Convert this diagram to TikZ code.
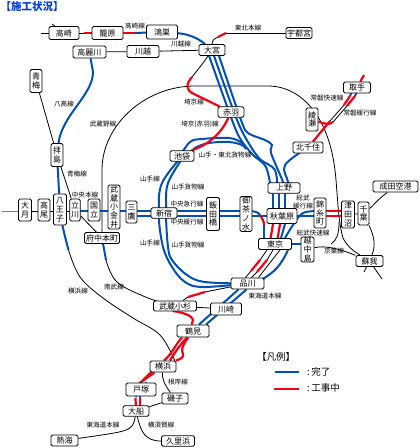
\documentclass[tikz,border=0pt]{standalone}
\usepackage{fontspec}
\setmainfont{Noto Sans CJK JP}
\usepackage{xcolor}
\usetikzlibrary{backgrounds}
\definecolor{doneblue}{RGB}{0,80,180}
\definecolor{wipred}{RGB}{240,0,20}
\definecolor{titleblue}{RGB}{0,60,220}
\tikzset{
  station/.style 2 args={draw,fill=white,rounded corners=1.5pt,line width=0.9pt,inner sep=0pt,
    minimum width=#1,minimum height=#2,align=center,font=\fontsize{8}{8.8}\selectfont},
  linelabel/.style={inner sep=0pt,align=center,font=\fontsize{6.6}{7.6}\selectfont},
  legendtext/.style={anchor=west,inner sep=0pt,font=\fontsize{9.5}{11}\selectfont},
  plainline/.style={draw=black,line width=0.8pt},
  doneline/.style={draw=doneblue,line width=2pt},
  wipline/.style={draw=wipred,line width=2.2pt},
  grayline/.style={draw=gray,line width=0.8pt},
}
\begin{document}
\begin{tikzpicture}[x=1pt,y=-1pt]
  \useasboundingbox (0,0) rectangle (420,448);
  \node[anchor=west,inner sep=0pt,text=titleblue,font=\fontsize{10.5}{12}\selectfont\bfseries] (title) at (0.5,6.5) {【施工状況】};

  % stations
  \node[station={30pt}{13pt}] (takasaki) at (64,33) {高崎};
  \node[station={31pt}{13pt}] (kagohara) at (107.5,33) {籠原};
  \node[station={31pt}{14pt}] (konosu) at (162,32) {鴻巣};
  \node[station={33pt}{12pt}] (komagawa) at (89.5,52) {高麗川};
  \node[station={32pt}{12pt}] (kawagoe) at (143,51.5) {川越};
  \node[station={26pt}{11pt}] (omiya) at (212,50) {大宮};
  \node[station={26pt}{11pt}] (utsunomiya) at (299,33) {宇都宮};
  \node[station={12pt}{23pt}] (ome) at (36,81) {青\\梅};
  \node[station={12pt}{23pt}] (haijima) at (57,155) {拝\\島};
  \node[station={13pt}{22pt}] (otsuki) at (25,210) {大\\月};
  \node[station={12pt}{22pt}] (takao) at (44,210) {高\\尾};
  \node[station={13pt}{31pt}] (hachioji) at (60,209.5) {八\\王\\子};
  \node[station={10.5pt}{22pt}] (tachikawa) at (75,210) {立\\川};
  \node[station={12pt}{22pt}] (kunitachi) at (94,210) {国\\立};
  \node[station={12pt}{44pt}] (musashikoganei) at (114,207) {武\\蔵\\小\\金\\井};
  \node[station={11pt}{22pt}] (mitaka) at (131.5,212) {三\\鷹};
  \node[station={26pt}{10.5pt}] (shinjuku) at (164,213) {新宿};
  \node[station={35pt}{11pt}] (fuchuhonmachi) at (102,238) {府中本町};
  \node[station={24pt}{10.5pt}] (ikebukuro) at (182,156) {池袋};
  \node[station={26pt}{10.5pt}] (akabane) at (231,112) {赤羽};
  \node[station={13pt}{33pt}] (iidabashi) at (213,214) {飯\\田\\橋};
  \node[station={12pt}{35pt}] (ochanomizu) at (246,214) {御\\茶\\ノ\\水};
  \node[station={32pt}{10.5pt}] (ueno) at (284,188) {上野};
  \node[station={30pt}{15pt}] (akihabara) at (282,216) {秋葉原};
  \node[station={33pt}{11pt}] (tokyo) at (275,244) {東京};
  \node[station={12pt}{30pt}] (kinshicho) at (320,213) {錦\\糸\\町};
  \node[station={13pt}{27pt}] (tsudanuma) at (348,214.5) {津\\田\\沼};
  \node[station={11pt}{23pt}] (chiba) at (363.5,213.5) {千\\葉};
  \node[station={45pt}{11pt}] (naritakuko) at (395.5,186.5) {成田空港};
  \node[station={27pt}{11pt}] (soga) at (369.5,261) {蘇我};
  \node[station={13pt}{23pt}] (etchujima) at (307.5,249.5) {越\\中\\島};
  \node[station={33pt}{11pt}] (shinagawa) at (247.5,283.5) {品川};
  \node[station={31pt}{12pt}] (kawasaki) at (226,309) {川崎};
  \node[station={43pt}{10pt}] (musashikosugi) at (175,306) {武蔵小杉};
  \node[station={32pt}{12pt}] (tsurumi) at (193,331) {鶴見};
  \node[station={26pt}{11pt}] (yokohama) at (163,366.5) {横浜};
  \node[station={30pt}{13pt}] (totsuka) at (141,389.5) {戸塚};
  \node[station={26pt}{11pt}] (isogo) at (175,398.5) {磯子};
  \node[station={26pt}{10.5pt}] (ofuna) at (136,411) {大船};
  \node[station={27pt}{11pt}] (atami) at (64.5,440.5) {熱海};
  \node[station={33pt}{10.5pt}] (kurihama) at (178,441) {久里浜};
  \node[station={27pt}{11pt}] (toride) at (357,87.5) {取手};
  \node[station={12pt}{23pt}] (ayase) at (312,119.5) {綾\\瀬};
  \node[station={30pt}{11pt}] (kitasenju) at (308,147.5) {北千住};

  % rows of the Chuo tracks
  \coordinate (chuoA) at (0,211);
  \coordinate (chuoB) at (0,216);
  \coordinate (ueleft) at (41,33);
  \coordinate (uptick) at (52,24);
  \coordinate (otsukileft) at (2,211);
  \coordinate (sogaA) at (364,272);
  \coordinate (sogaB) at (382,279);
  \coordinate (toridetop) at (364,75);

  \begin{scope}[on background layer]
    % black lines
    \draw[plainline] (ueleft) -- (takasaki);
    \draw[plainline] (uptick) -- (takasaki);
    \draw[plainline] (takasaki) -- (84,33);
    \draw[plainline] (komagawa) -- (kawagoe);
    \draw[plainline] (kawagoe) -- (omiya);
    \draw[plainline] (ome) -- (haijima);
    \draw[plainline] (haijima) -- (tachikawa);
    \draw[grayline] (otsukileft) -- (otsuki |- chuoA);
    \draw[plainline] (otsuki |- chuoA) -- (tachikawa |- chuoA);
    \draw[plainline] (tachikawa) -- (fuchuhonmachi);
    \draw[plainline] (omiya) .. controls (212,40) and (215,38) .. (218,37);
    \draw[plainline] (226,33) -- (utsunomiya);
    \draw[plainline] (omiya) .. controls (204,62) and (200,67) .. (192,77);
    % Musashino line
    \draw[plainline] (fuchuhonmachi) -- (102,170) .. controls (102,125) and (145,86) .. (195,86)
      -- (268,86) .. controls (300,86) and (331,115) .. (336,180)
      .. controls (338,205) and (339,225) .. (343,238) .. controls (347,246) and (352,250) .. (soga);
    \draw[plainline] (339,222) .. controls (339,234) and (337,240) .. (331,244);
    \draw[plainline] (etchujima) .. controls (325,245) and (340,249) .. (soga);
    \draw[plainline] (tsudanuma) -- (chiba);
    \draw[plainline] (chiba) .. controls (374,236) and (376,245) .. (soga);
    \draw[plainline] (chiba) .. controls (374,205) and (377,200) .. (naritakuko);
    \draw[plainline] (soga) -- (sogaA);
    \draw[plainline] (soga) -- (sogaB);
    % Yokohama and Nambu lines
    \draw[plainline] plot[smooth,tension=.6] coordinates {(68.5,250) (80,277) (103,298) (133,318) (160,335) (175,361)};
    \draw[plainline] plot[smooth,tension=.6] coordinates {(106,260) (117,282) (148,298) (musashikosugi)};
    % south end
    \draw[plainline] (yokohama) .. controls (162,378) and (164,384) .. (isogo);
    \draw[plainline] (isogo) -- (ofuna);
    \draw[plainline] (ofuna) .. controls (133,432) and (128,431) .. (atami);
    \draw[plainline] (ofuna) .. controls (141,432) and (145,441) .. (kurihama);
    \draw[plainline] (musashikosugi) -- (kawasaki);
    % Tokyo to Shinagawa, black parts
    \draw[plainline] ([xshift=-8pt]tokyo.south) -- (260,260);
    \draw[plainline] (251,271) -- ([xshift=-2pt]shinagawa.north);
    \draw[plainline] ([xshift=-2pt]tokyo.south) -- (267,260);
    \draw[plainline] (257,272) -- ([xshift=4pt]shinagawa.north);
    \draw[plainline] ([xshift=5pt]tokyo.south) -- ([xshift=11pt]shinagawa.north);
    \draw[plainline] (shinagawa) -- (205,292);
    \draw[plainline] (188,297) -- (musashikosugi);
    % Joban black parts
    \draw[plainline] (344,105) -- (330,121);
    \draw[plainline] (347,106) -- (333,122);

    % completed tracks
    \draw[doneline] (konosu) .. controls (188,34) and (198,38) .. (omiya);
    \draw[doneline] (komagawa) -- (93,72) .. controls (93,95) and (62,115) .. (haijima);
    \draw[doneline] (haijima) -- (hachioji);
    \draw[doneline] (tachikawa |- chuoA) -- (mitaka |- chuoA);
    \draw[doneline] (mitaka |- chuoA) -- (ochanomizu |- chuoA);
    \draw[doneline] (mitaka |- chuoB) -- (kinshicho |- chuoB);
    \draw[doneline] plot[smooth,tension=.6] coordinates {(hachioji) (63,228) (68.5,250)};
    \draw[doneline] (fuchuhonmachi) -- (106,260);
    % Yamanote and freight rings
    \draw[doneline] plot[smooth,tension=.6] coordinates {(ikebukuro) (162,183) (159,208) (shinjuku) (159,218) (163,247) (172,267) (185,282) (203,287) (shinagawa)};
    \draw[doneline] plot[smooth,tension=.6] coordinates {([xshift=2pt]ikebukuro.center) (168,183) (166,208) (166,218) (168,247) (172,260) (187,275) (205,282) (shinagawa)};
    \draw[doneline] plot[smooth,tension=.6] coordinates {([xshift=-2pt]ikebukuro.center) (190,142) (202,139) (229,138) (242,143) (246,149)};
    \draw[doneline] plot[smooth,tension=.6] coordinates {([xshift=5pt]ikebukuro.center) (195,148) (209,143) (229,142) (242,145) (246,149)};
    % tracks from Omiya to Ueno
    \draw[doneline] plot[smooth,tension=.5] coordinates {([xshift=-5pt]omiya.center) (232,120) (241,140) (253,155) (266,167) ([xshift=-12pt]ueno.south)};
    \draw[doneline] plot[smooth,tension=.5] coordinates {(omiya) (237,120) (251,147) (261,160) (275,170) ([xshift=-6pt]ueno.south)};
    \draw[doneline] plot[smooth,tension=.5] coordinates {([xshift=5pt]omiya.center) (241,120) (248,133) (265,140) (272,145) (271,153) (283,182) ([xshift=1pt]ueno.south)};
    \draw[doneline] plot[smooth,tension=.6] coordinates {(kitasenju) (285,165) (288,182) ([xshift=4pt]ueno.south)};
    \draw[doneline] ([xshift=-11pt]ueno.south) -- ([xshift=-9pt]akihabara.north);
    \draw[doneline] ([xshift=-5pt]ueno.south) -- ([xshift=-3pt]akihabara.north);
    \draw[doneline] ([xshift=1pt]ueno.south) -- ([xshift=3pt]akihabara.north);
    \draw[doneline] ([xshift=3pt]akihabara.south) -- ([xshift=6pt]tokyo.north);
    \draw[doneline] (ochanomizu |- chuoA) .. controls (256,211) and (258,212) .. (260,215);
    \draw[doneline] (264,224) -- ([xshift=-11pt]tokyo.center);
    \draw[doneline] plot[smooth,tension=.6] coordinates {(kinshicho |- chuoA) (303,213) (293,225) (285,238)};
    \draw[doneline] (tokyo) -- (etchujima |- tokyo);
    \draw[doneline] ([xshift=13pt]tokyo.south) .. controls (280,267) and (275,271) .. (263,279);
    % Shinagawa to Tsurumi
    \draw[doneline] ([xshift=-9pt]shinagawa.south) -- ([xshift=6pt]tsurumi.north);
    \draw[doneline] ([xshift=-1pt]shinagawa.south) -- ([xshift=13pt]tsurumi.north);

    % tracks under construction
    \draw[wipline] (84,33) -- (kagohara);
    \draw[wipline] (kagohara) -- (135,33);
    \draw[doneline] (135,33) -- (konosu);
    \draw[wipline] (192,77) .. controls (186,84) and (185,90) .. (194,94) -- (akabane);
    \draw[wipline] (218,37) -- (226,33);
    \draw[wipline] (akabane) .. controls (225,125) and (220,134) .. (207,143) .. controls (201,147) and (195,149) .. (ikebukuro);
    \draw[wipline] (260,215) .. controls (262,218) and (264,221) .. (264,225);
    \draw[wipline] ([xshift=-9pt]akihabara.south) .. controls (272,231) and (271,234) .. ([xshift=-5pt]tokyo.center);
    \draw[wipline] ([xshift=-2pt]akihabara.south) .. controls (279,231) and (278,234) .. ([xshift=2pt]tokyo.center);
    \draw[wipline] (kinshicho |- chuoA) -- (tsudanuma |- chuoA);
    \draw[wipline] (kinshicho |- chuoB) -- (tsudanuma |- chuoB);
    \draw[wipline] (260,260) -- (251,271);
    \draw[wipline] (267,260) -- (257,272);
    \draw[wipline] (205,292) -- (188,297);
    \draw[wipline] (musashikosugi) -- (173,311) .. controls (186,313) and (196,317) .. (192,323) -- (tsurumi);
    % Tsurumi to Yokohama
    \draw[wipline] ([xshift=-11pt]tsurumi.south) .. controls (175,345) and (172,354) .. ([xshift=1pt]yokohama.north);
    \draw[wipline] ([xshift=-6pt]tsurumi.south) .. controls (180,345) and (175,352) .. ([xshift=7pt]yokohama.north);
    \draw[wipline] (tsurumi) .. controls (182,346) and (181,350) .. (183,354) .. controls (184,358) and (180,359) .. ([xshift=13pt]yokohama.north);
    % Yokohama to Ofuna
    \draw[wipline] (yokohama) -- (141,382);
    \draw[wipline] ([xshift=-6pt]yokohama.center) -- (139,384);
    \draw[doneline] (141,382) -- (totsuka);
    \draw[doneline] (146,382) -- (totsuka);
    \draw[wipline] (135.5,398) -- (ofuna);
    \draw[wipline] (140,398) -- (140,407);
    \draw[doneline] (137,394) -- (135.8,397);
    \draw[doneline] (140,394) -- (140,397.5);
    % Joban
    \draw[wipline] (toridetop) -- (toride);
    \draw[doneline] ([xshift=-3pt]toride.center) -- (350,96);
    \draw[doneline] ([xshift=2pt]toride.center) -- (355,96);
    \draw[wipline] (350,96) -- (344,105);
    \draw[wipline] (355,96) -- (347,106);
    \draw[wipline] (330,121) -- (kitasenju);
    \draw[wipline] (333,122) .. controls (330,125) and (325,124) .. (ayase);
  \end{scope}

  % line labels
  \node[linelabel] (lbltakasaki) at (135,26) {高崎線};
  \node[linelabel] (lblkawagoe) at (181,44.5) {川越線};
  \node[linelabel] (lbltohoku) at (248,28) {東北本線};
  \node[linelabel] (lblhachiko) at (64,104) {八高線};
  \node[linelabel] (lblome) at (77,174) {青梅線};
  \node[linelabel] (lblmusashino) at (103,124) {武蔵野線};
  \node[linelabel] (lblsaikyo) at (194,102) {埼京線};
  \node[linelabel] (lblsaikyoakabane) at (200,124) {埼京(赤羽)線};
  \node[linelabel] (lblfreightA) at (225,155) {山手・東北貨物線};
  \node[linelabel] (lblyamanoteA) at (150,179) {山手線};
  \node[linelabel] (lblfreightB) at (188,187) {山手貨物線};
  \node[linelabel] (lblchuo) at (85,195) {中央本線};
  \node[linelabel] (lblchuorapid) at (187,204) {中央急行線};
  \node[linelabel] (lblchuolocal) at (187,222) {中央緩行線};
  \node[linelabel] (lblyamanoteB) at (150,243) {山手線};
  \node[linelabel] (lblfreightC) at (188,245) {山手貨物線};
  \node[linelabel] (lblyokohama) at (78,291) {横浜線};
  \node[linelabel] (lblnambu) at (114,287) {南武線};
  \node[linelabel] (lbltokaidoA) at (265,296) {東海道本線};
  \node[linelabel] (lbljobanrapid) at (327,98) {常磐快速線};
  \node[linelabel] (lbljobanlocal) at (360,113) {常磐緩行線};
  \node[linelabel] (lblsobulocal) at (303,202) {総武\\緩行線};
  \node[linelabel] (lblsoburapid) at (313,233) {総武快速線};
  \node[linelabel] (lblkeiyo) at (334,251) {京葉線};
  \node[linelabel] (lblnegishi) at (178,382) {根岸線};
  \node[linelabel] (lbltokaidoB) at (103,425) {東海道本線};
  \node[linelabel] (lblyokosuka) at (161,425) {横須賀線};

  % legend
  \node[legendtext] (legendtitle) at (257,357) {【凡例】};
  \coordinate (doneleft) at (275,372);
  \coordinate (doneright) at (299,372);
  \coordinate (wipleft) at (274,389);
  \coordinate (wipright) at (299,389);
  \draw[doneline] (doneleft) -- (doneright);
  \draw[wipline] (wipleft) -- (wipright);
  \node[legendtext] (legenddone) at (307,372) {:\,完了};
  \node[legendtext] (legendwip) at (307,388) {:\,工事中};
\end{tikzpicture}
\end{document}
